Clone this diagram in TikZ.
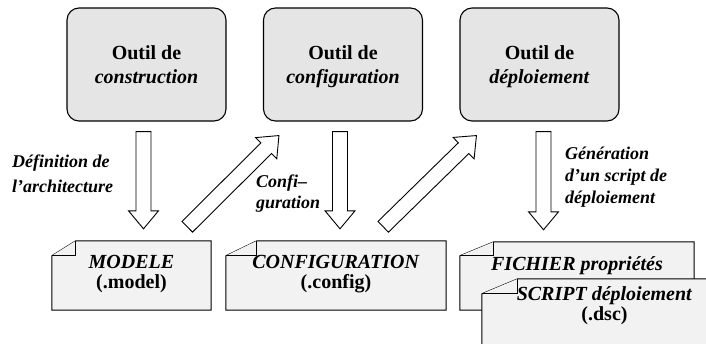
\documentclass[tikz,border=0pt]{standalone}
\usepackage{fontspec}
\setmainfont{Liberation Serif}
\usetikzlibrary{calc, backgrounds}

% document frame with a folded top-left corner, drawn behind the node text
\newcommand{\docframe}[3]{%
  \begin{scope}[on background layer]
    \filldraw[docline] ([yshift=-#3]#1.north west) -- ([xshift=#2]#1.north west) -- (#1.north east)
      -- (#1.south east) -- (#1.south west) -- cycle;
    \draw[docline] ([xshift=#2]#1.north west) -- ([xshift=#2,yshift=-#3]#1.north west)
      -- ([yshift=-#3]#1.north west);
  \end{scope}}

% hollow block arrow between two points
\newcommand{\blockarrow}[2]{%
  \path (#1) coordinate (ba-s) (#2) coordinate (ba-e);
  \coordinate (ba-h) at ($(ba-e)!18pt!(ba-s)$);
  \draw[bigarrow] ($(ba-s)!7.5pt!90:(ba-e)$) -- ($(ba-h)!7.5pt!90:(ba-e)$)
    -- ($(ba-h)!15pt!90:(ba-e)$) -- (ba-e) -- ($(ba-h)!15pt!-90:(ba-e)$)
    -- ($(ba-h)!7.5pt!-90:(ba-e)$) -- ($(ba-s)!7.5pt!-90:(ba-e)$) -- cycle;}

\begin{document}
\begin{tikzpicture}[x=1pt, y=-1pt,
    toolbox/.style={rectangle, rounded corners=12pt, draw, line width=1.1pt, fill=gray!20,
                    minimum width=159pt, minimum height=113pt, inner sep=0pt, align=center,
                    text depth=0pt, font=\fontsize{20}{23.5}\selectfont\bfseries},
    docbox/.style={rectangle, minimum height=69pt, inner sep=0pt, align=center,
                   text depth=8pt, font=\fontsize{20}{20}\selectfont\bfseries},
    docline/.style={line width=1pt, fill=gray!10},
    note/.style={inner sep=0pt, align=left, font=\fontsize{18}{23}\selectfont\bfseries\itshape},
    bigarrow/.style={line width=0.9pt, fill=white, line join=miter}]
    \useasboundingbox (0,0) rectangle (706,343);

    % Tools
    \node[toolbox] (build) at (146.5,64.5) {Outil de\\\textit{construction}};
    \node[toolbox] (setup) at (343,64.5) {Outil de\\\textit{configuration}};
    \node[toolbox] (deploy) at (539.5,64.5) {Outil de\\\textit{déploiement}};

    % Documents
    \node[docbox, minimum width=159pt] (model) at (131.5,275.5) {\textit{MODELE}\\(.model)};
    \docframe{model}{24pt}{15pt}
    \node[docbox, minimum width=220pt] (config) at (336,275.5) {\textit{CONFIGURATION}\\(.config)};
    \docframe{config}{31pt}{15pt}
    \node[docbox, minimum width=234pt, minimum height=68pt, text height=13.5pt, text depth=25pt]
        (props) at (577,276) {\textit{FICHIER propriétés}};
    \docframe{props}{34pt}{14pt}
    \node[docbox, minimum width=245pt, minimum height=76pt, text depth=26pt]
        (script) at (604.5,317) {\textit{SCRIPT déploiement}\\(.dsc)};
    \docframe{script}{36pt}{15pt}

    % Arrows
    \blockarrow{$(build.south)+(-3,10)$}{$(model.north)+(12,-12)$}
    \blockarrow{$(model.north east)+(-24,-14)$}{$(setup.south west)+(16,14)$}
    \blockarrow{$(setup.south)+(-3,10)$}{$(config.north)+(4,-12)$}
    \blockarrow{$(config.north east)+(-63,-14)$}{$(deploy.south west)+(17,14)$}
    \blockarrow{$(deploy.south)+(4,10)$}{$(props.north)+(-33.5,-12)$}

    % Labels (base anchor sits on the last line)
    \node[note, anchor=base west, font=\fontsize{18}{25}\selectfont\bfseries\itshape]
        (define) at (12,192) {Définition de\\l’architecture};
    \node[note, anchor=base west, font=\fontsize{18}{21}\selectfont\bfseries\itshape]
        (tune) at (256,208) {Confi–\\guration};
    \node[note, anchor=base west, font=\fontsize{18}{22}\selectfont\bfseries\itshape]
        (generate) at (565,203) {Génération\\d’un script de\\déploiement};
\end{tikzpicture}
\end{document}
